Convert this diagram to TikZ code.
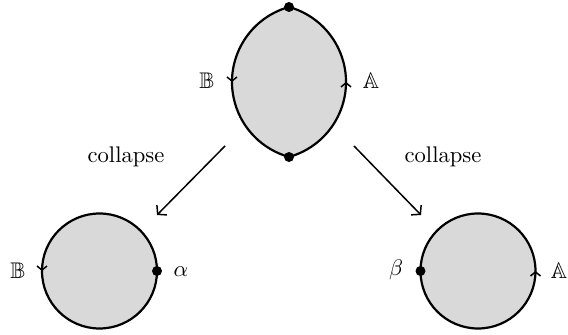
\documentclass[tikz,border=0pt]{standalone}
\usepackage{amssymb}
\usetikzlibrary{arrows.meta,decorations.markings}
\tikzset{
  region/.style={fill=black!15, draw=black, line width=1.1pt},
  tick/.style={postaction={decorate}, decoration={markings,#1}},
  dot/.style={circle, fill=black, inner sep=0pt, minimum size=5pt},
  lbl/.style={inner sep=0pt, scale=1.13},
  conn/.style={line width=0.75pt, -{Straight Barb[length=3pt,width=7pt,line width=0.75pt]}}
}
\begin{document}
\begin{tikzpicture}[x=0.5pt,y=-0.5pt]
\useasboundingbox (0,0) rectangle (568,335);
% lens
\coordinate (top) at (289,7);
\coordinate (bot) at (289,157);
\path[region, tick={mark=at position 0.25 with {\arrow{Straight Barb[length=2pt,width=5pt,line width=0.75pt]}},
                   mark=at position 0.75 with {\arrow{Straight Barb[length=2pt,width=5pt,line width=0.75pt]}}}]
  (top) arc[start angle=105.5, end angle=254.5, radius=38.9pt]
        arc[start angle=-74.5, end angle=74.5, radius=38.9pt] -- cycle;
\node[dot] (dt) at (top) {};
\node[dot] (db) at (bot) {};
\node[lbl] (lB) at (207,81) {$\mathbb{B}$};
\node[lbl] (lA) at (371,81) {$\mathbb{A}$};
% left circle
\coordinate (cl) at (99.5,271);
\path[region, tick={mark=at position 0.25 with {\arrow{Straight Barb[length=2pt,width=5pt,line width=0.75pt]}}}]
  (cl) ++(0,-57.5) arc[start angle=90, end angle=450, radius=28.75pt] -- cycle;
\node[dot] (dl) at (157,271) {};
\node[lbl] (lB2) at (18,271) {$\mathbb{B}$};
\node[lbl] (la) at (181,272) {$\alpha$};
% right circle
\coordinate (cr) at (478,271);
\path[region, tick={mark=at position 0.25 with {\arrow{Straight Barb[length=2pt,width=5pt,line width=0.75pt]}}}]
  (cr) ++(0,57.5) arc[start angle=270, end angle=630, radius=28.75pt] -- cycle;
\node[dot] (dr) at (420.5,271) {};
\node[lbl] (lb) at (396,270) {$\beta$};
\node[lbl] (lA2) at (559,271) {$\mathbb{A}$};
% connectors
\coordinate (s1) at (225,146);
\coordinate (e1) at (157,215);
\coordinate (s2) at (354,146);
\coordinate (e2) at (421,215);
\draw[conn] (s1) -- (e1);
\draw[conn] (s2) -- (e2);
\node[lbl] (c1) at (126,157) {collapse};
\node[lbl] (c2) at (443,157) {collapse};
\end{tikzpicture}
\end{document}
